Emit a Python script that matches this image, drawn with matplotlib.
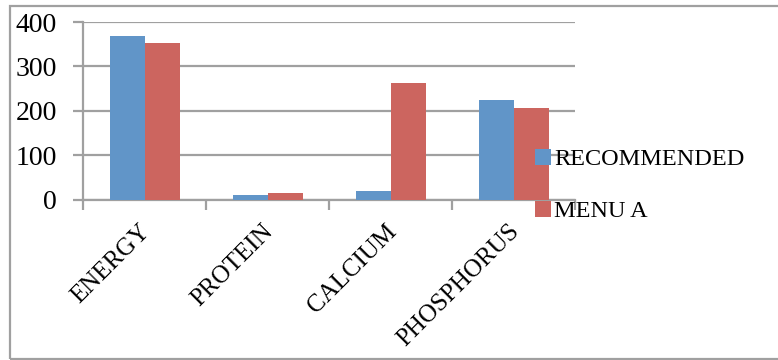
import matplotlib
matplotlib.use("Agg")
import matplotlib.pyplot as plt
import matplotlib.transforms as mtransforms
from matplotlib.patches import Rectangle
import numpy as np

categories = ["ENERGY", "PROTEIN", "CALCIUM", "PHOSPHORUS"]
recommended = [368, 10, 19, 224]
menu_a = [353, 16, 263, 207]
series_names = ["RECOMMENDED", "MENU A"]
y_ticks = [0, 100, 200, 300, 400]

plt.rcParams["font.family"] = ["Liberation Serif", "DejaVu Serif"]

W, H = 778, 360
fig = plt.figure(figsize=(W / 100, H / 100), dpi=100)

# outer chart frame
fig.patches.append(Rectangle((10 / W, 1 / H), 1.2, 353 / H, transform=fig.transFigure,
                             fill=False, edgecolor="#a0a0a0", linewidth=1.6))

ax = fig.add_axes([83.3 / W, 1 - 199.7 / H, (575 - 83.3) / W, (199.7 - 22) / H])

grey = "#a0a0a0"
x = np.arange(len(categories))
bw = 0.285
ax.bar(x - bw / 2, recommended, bw, color="#6195c8", label=series_names[0], zorder=3)
ax.bar(x + bw / 2, menu_a, bw, color="#cc655f", label=series_names[1], zorder=3)

ax.set_xlim(-0.5, len(categories) - 0.5)
ax.set_ylim(0, 400)
ax.set_yticks(y_ticks)
ax.set_yticklabels([str(v) for v in y_ticks], fontsize=20)
ax.yaxis.grid(True, color=grey, linewidth=1.6, zorder=0)
ax.set_axisbelow(True)

# category boundary ticks on x axis, labels at centers
ax.set_xticks(np.arange(len(categories) + 1) - 0.5)
ax.set_xticklabels([])
ax.set_xticks(x, minor=True)
ax.set_xticklabels(categories, minor=True, rotation=45, ha="right", fontsize=18)
ax.tick_params(axis="x", which="minor", length=0, pad=15)
ax.tick_params(axis="x", which="major", length=7, width=1.6, color=grey)
ax.tick_params(axis="y", length=7, width=1.6, color=grey, pad=12)

shift = mtransforms.ScaledTranslation(10 / 100, 0, fig.dpi_scale_trans)
for lbl in ax.get_xticklabels(minor=True):
    lbl.set_transform(lbl.get_transform() + shift)

for s in ["top", "right"]:
    ax.spines[s].set_visible(False)
for s in ["left", "bottom"]:
    ax.spines[s].set_color(grey)
    ax.spines[s].set_linewidth(1.6)

fig.legend(loc="upper left", bbox_to_anchor=(525 / W, 1 - 139 / H), frameon=False,
           fontsize=17.5, handlelength=0.65, handleheight=0.65, handletextpad=0.15,
           labelspacing=1.25, borderaxespad=0)

fig.savefig("out.png", dpi=100)
